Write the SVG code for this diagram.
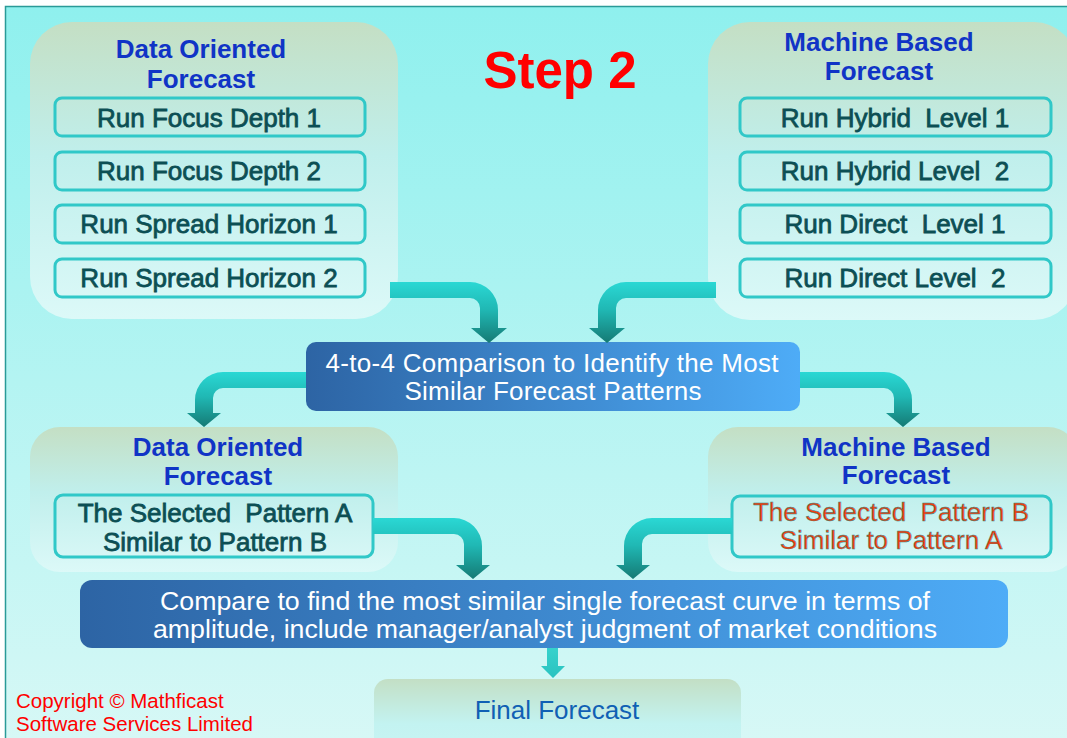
<svg xmlns="http://www.w3.org/2000/svg" width="1067" height="738" viewBox="0 0 1067 738">
<defs>
<linearGradient id="bg" x1="0" y1="0" x2="0" y2="1">
<stop offset="0" stop-color="#8ff0ee"/>
<stop offset="1" stop-color="#d8f8f6"/>
</linearGradient>
<linearGradient id="panel" x1="0" y1="0" x2="0" y2="1">
<stop offset="0" stop-color="#c4dfc4"/>
<stop offset="0.45" stop-color="#c0efec"/>
<stop offset="1" stop-color="#dcf9f8"/>
</linearGradient>
<linearGradient id="final" x1="0" y1="0" x2="0" y2="1">
<stop offset="0" stop-color="#c3dfc5"/>
<stop offset="0.6" stop-color="#c3f3f1"/>
<stop offset="1" stop-color="#c8f5f3"/>
</linearGradient>
<linearGradient id="blue" x1="0" y1="0" x2="1" y2="0">
<stop offset="0" stop-color="#2d64a4"/>
<stop offset="1" stop-color="#4eacf7"/>
</linearGradient>
<linearGradient id="arr" x1="0" y1="0" x2="0" y2="1">
<stop offset="0" stop-color="#2ad8d4"/>
<stop offset="0.45" stop-color="#20b8b4"/>
<stop offset="1" stop-color="#157a74"/>
</linearGradient>
<linearGradient id="arrs" x1="0" y1="0" x2="0" y2="1">
<stop offset="0" stop-color="#36d2cc"/>
<stop offset="1" stop-color="#2ac2c0"/>
</linearGradient>
</defs>
<style>
.panel{fill:url(#panel)}
.box{fill:none;stroke:#30c8c8;stroke-width:3}
.title{font-family:"Liberation Sans",Arial,sans-serif;font-weight:bold;font-size:26px;fill:#1034c6;text-anchor:middle}
.item{font-family:"Liberation Sans",Arial,sans-serif;font-size:26px;fill:#0c4f54;stroke:#0c4f54;stroke-width:0.8;text-anchor:middle;white-space:pre}
.itemred{font-family:"Liberation Sans",Arial,sans-serif;font-size:26px;fill:#f23c0c;stroke:#2a8c88;stroke-width:0.45;text-anchor:middle;white-space:pre}
.white{font-family:"Liberation Sans",Arial,sans-serif;font-size:26px;fill:#ffffff;text-anchor:middle}
.arrow{fill:url(#arr)}
</style>
<rect x="0" y="0" width="1067" height="738" fill="#ffffff"/>
<rect x="5.5" y="6.5" width="1075" height="745" fill="url(#bg)" stroke="#2a9a98" stroke-width="1.5"/>

<text x="560" y="88" font-family="Liberation Sans, Arial, sans-serif" font-weight="bold" font-size="51" fill="#ff0000" text-anchor="middle">Step 2</text>

<g id="data-oriented-top">
<rect class="panel" x="30" y="22" width="368" height="297" rx="42"/>
<text class="title" x="201" y="58">Data Oriented</text>
<text class="title" x="201" y="88">Forecast</text>
<rect class="box" x="55" y="98" width="310" height="38" rx="7"/>
<text class="item" x="209" y="127">Run Focus Depth 1</text>
<rect class="box" x="55" y="152" width="310" height="38" rx="7"/>
<text class="item" x="209" y="180">Run Focus Depth 2</text>
<rect class="box" x="55" y="205" width="310" height="38" rx="7"/>
<text class="item" x="209" y="233">Run Spread Horizon 1</text>
<rect class="box" x="55" y="259" width="310" height="38" rx="7"/>
<text class="item" x="209" y="287">Run Spread Horizon 2</text>
</g>

<g id="machine-based-top">
<rect class="panel" x="708" y="22" width="368" height="298" rx="42"/>
<text class="title" x="879" y="51">Machine Based</text>
<text class="title" x="879" y="80">Forecast</text>
<rect class="box" x="740" y="98" width="311" height="38" rx="7"/>
<text class="item" x="895" y="127" xml:space="preserve">Run Hybrid  Level 1</text>
<rect class="box" x="740" y="152" width="311" height="38" rx="7"/>
<text class="item" x="895" y="180" xml:space="preserve">Run Hybrid Level  2</text>
<rect class="box" x="740" y="205" width="311" height="38" rx="7"/>
<text class="item" x="895" y="233" xml:space="preserve">Run Direct  Level 1</text>
<rect class="box" x="740" y="259" width="311" height="38" rx="7"/>
<text class="item" x="895" y="287" xml:space="preserve">Run Direct Level  2</text>
</g>

<g id="comparison">
<rect x="306" y="342" width="494" height="69" rx="10" fill="url(#blue)"/>
<text class="white" x="552" y="372" textLength="453" lengthAdjust="spacing">4-to-4 Comparison to Identify the Most</text>
<text class="white" x="553" y="400" textLength="297" lengthAdjust="spacing">Similar Forecast Patterns</text>
</g>

<g id="data-oriented-selected">
<rect class="panel" x="30" y="427" width="368" height="145" rx="30"/>
<text class="title" x="218" y="456">Data Oriented</text>
<text class="title" x="218" y="485">Forecast</text>
<rect class="box" x="55" y="495" width="318" height="62" rx="8"/>
<text class="item" x="215" y="522" xml:space="preserve">The Selected  Pattern A</text>
<text class="item" x="215" y="551">Similar to Pattern B</text>
</g>

<g id="machine-based-selected">
<rect class="panel" x="708" y="427" width="370" height="145" rx="30"/>
<text class="title" x="896" y="456">Machine Based</text>
<text class="title" x="896" y="484">Forecast</text>
<rect class="box" x="732" y="496" width="319" height="61" rx="8"/>
<text class="itemred" x="891" y="521" xml:space="preserve">The Selected  Pattern B</text>
<text class="itemred" x="891" y="549">Similar to Pattern A</text>
</g>

<g id="compare-curve">
<rect x="80" y="580" width="928" height="68" rx="12" fill="url(#blue)"/>
<text class="white" x="545" y="610" textLength="770" lengthAdjust="spacingAndGlyphs">Compare to find the most similar single forecast curve in terms of</text>
<text class="white" x="545" y="638" textLength="784" lengthAdjust="spacingAndGlyphs">amplitude, include manager/analyst judgment of market conditions</text>
</g>

<g id="final-forecast">
<rect x="374" y="679" width="367" height="75" rx="14" fill="url(#final)"/>
<text x="557" y="719" font-family="Liberation Sans, Arial, sans-serif" font-size="26" fill="#1060b4" text-anchor="middle">Final Forecast</text>
</g>

<g id="copyright" font-family="Liberation Sans, Arial, sans-serif" font-size="20.5" fill="#ff0000">
<text x="16" y="708">Copyright © Mathficast</text>
<text x="16" y="731">Software Services Limited</text>
</g>

<g id="connectors">
<path class="arrow" d="M390,282 L470,282 A28,28 0 0 1 498,310 L498,328 L507,328 L489,343 L471,328 L480,328 L480,308 A10,10 0 0 0 470,298 L390,298 Z"/>
<path class="arrow" d="M716,282 L626,282 A28,28 0 0 0 598,310 L598,328 L589,328 L607,343 L625,328 L616,328 L616,308 A10,10 0 0 1 626,298 L716,298 Z"/>
<path class="arrow" d="M306,372 L223,372 A28,28 0 0 0 195,400 L195,413 L187,413 L204,427 L221,413 L213,413 L213,398 A10,10 0 0 1 223,388 L306,388 Z"/>
<path class="arrow" d="M800,372 L884,372 A28,28 0 0 1 912,400 L912,413 L920,413 L903,427 L886,413 L894,413 L894,398 A10,10 0 0 0 884,388 L800,388 Z"/>
<path class="arrow" d="M373,518 L454,518 A28,28 0 0 1 482,546 L482,565 L490,565 L473,579 L456,565 L464,565 L464,544 A10,10 0 0 0 454,534 L373,534 Z"/>
<path class="arrow" d="M732,518 L652,518 A28,28 0 0 0 624,546 L624,565 L616,565 L633,579 L650,565 L642,565 L642,544 A10,10 0 0 1 652,534 L732,534 Z"/>
<path fill="url(#arrs)" d="M547,648 L558,648 L558,666 L565,666 L553,678 L541,666 L547,666 Z"/>
</g>
</svg>
